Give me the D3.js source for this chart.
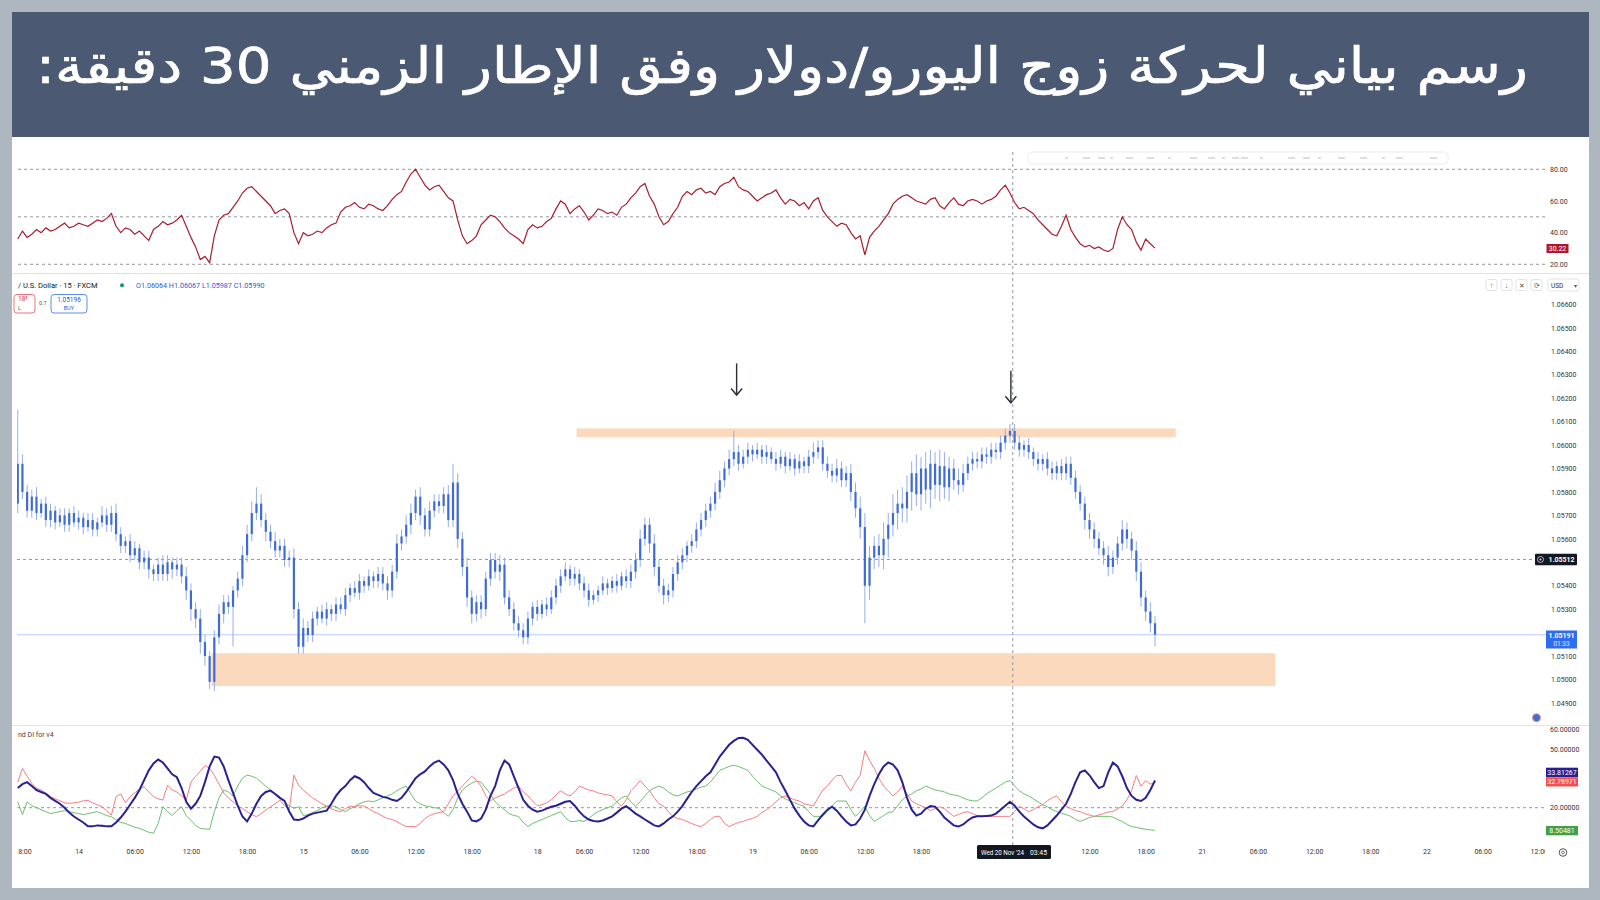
<!DOCTYPE html>
<html>
<head>
<meta charset="utf-8">
<script src="https://cdn.jsdelivr.net/npm/d3@7"></script>
<style>
  html, body { margin: 0; padding: 0; background: #aeb6c0; }
  svg { display: block; }
  text { font-family: Roboto, "Liberation Sans", sans-serif; }
</style>
</head>
<body>
<svg id="chart" width="1600" height="900"></svg>
<script>
// ---- data (30 min bars, bar index 0 = 14 Nov 00:00) ----
const startIndex = -13;
const firstOpen = 1.0575;
const closes = [
  1.0592, 1.0580, 1.0572, 1.0578, 1.0571, 1.0575, 1.0568, 1.0572, 1.0567, 1.0570,
  1.0566, 1.0571, 1.0567, 1.0569, 1.0565, 1.0568, 1.0564, 1.0567, 1.0570, 1.0566,
  1.0571, 1.0562, 1.0557, 1.0559, 1.0553, 1.0556, 1.0550, 1.0552, 1.0547, 1.0545,
  1.0549, 1.0545, 1.0550, 1.0547, 1.0549, 1.0544, 1.0538, 1.0530, 1.0526, 1.0516,
  1.0510, 1.0499, 1.0518, 1.0528, 1.0533, 1.0531, 1.0538, 1.0543, 1.0553, 1.0562,
  1.0571, 1.0575, 1.0568, 1.0563, 1.0559, 1.0555, 1.0557, 1.0551, 1.0552, 1.0530,
  1.0514, 1.0522, 1.0519, 1.0526, 1.0529, 1.0526, 1.0530, 1.0528, 1.0532, 1.0530,
  1.0536, 1.0539, 1.0537, 1.0542, 1.0540, 1.0544, 1.0542, 1.0545, 1.0541, 1.0538,
  1.0546, 1.0558, 1.0561, 1.0566, 1.0571, 1.0578, 1.0570, 1.0564, 1.0572, 1.0576,
  1.0574, 1.0579, 1.0568, 1.0584, 1.0560, 1.0548, 1.0535, 1.0528, 1.0533, 1.0530,
  1.0543, 1.0551, 1.0546, 1.0549, 1.0535, 1.0530, 1.0524, 1.0521, 1.0518, 1.0526,
  1.0531, 1.0528, 1.0532, 1.0530, 1.0535, 1.0540, 1.0544, 1.0547, 1.0543, 1.0545,
  1.0541, 1.0538, 1.0534, 1.0536, 1.0538, 1.0541, 1.0539, 1.0542, 1.0540, 1.0544,
  1.0542, 1.0546, 1.0551, 1.0560, 1.0566, 1.0558, 1.0548, 1.0540, 1.0536, 1.0538,
  1.0545, 1.0550, 1.0553, 1.0557, 1.0559, 1.0564, 1.0568, 1.0572, 1.0575, 1.0580,
  1.0585, 1.0590, 1.0594, 1.0597, 1.0592, 1.0595, 1.0598, 1.0596, 1.0598, 1.0595,
  1.0597, 1.0594, 1.0592, 1.0595, 1.0591, 1.0594, 1.0590, 1.0593, 1.0591, 1.0595,
  1.0597, 1.0599, 1.0592, 1.0589, 1.0587, 1.0590, 1.0585, 1.0588, 1.0580, 1.0573,
  1.0565, 1.0540, 1.0552, 1.0557, 1.0553, 1.0560, 1.0566, 1.0571, 1.0575, 1.0573,
  1.0580, 1.0588, 1.0579, 1.0590, 1.0581, 1.0592, 1.0583, 1.0591, 1.0582, 1.0590,
  1.0585, 1.0583, 1.0588, 1.0592, 1.0594, 1.0593, 1.0596, 1.0595, 1.0598, 1.0597,
  1.0601, 1.0604, 1.0606, 1.0601, 1.0598, 1.0600, 1.0597, 1.0594, 1.0592, 1.0594,
  1.0590, 1.0588, 1.0591, 1.0588, 1.0592, 1.0586, 1.0580, 1.0575, 1.0568, 1.0564,
  1.0560, 1.0556, 1.0553, 1.0548, 1.0552, 1.0558, 1.0564, 1.0560, 1.0555, 1.0546,
  1.0535, 1.0529, 1.0524, 1.05191
];
// wick lengths above / below the body, in pips
const wickUp = [
  23, 4, 3, 3, 4, 2, 3, 3, 2, 3,
  3, 2, 3, 3, 2, 3, 3, 2, 4, 3,
  3, 4, 3, 2, 3, 3, 2, 3, 3, 2,
  3, 4, 3, 2, 3, 3, 4, 3, 3, 4,
  3, 2, 3, 4, 3, 3, 2, 3, 4, 4,
  5, 7, 4, 3, 3, 4, 3, 3, 3, 4,
  3, 4, 3, 3, 2, 3, 3, 2, 3, 3,
  3, 2, 3, 3, 2, 3, 2, 3, 3, 3,
  3, 4, 3, 4, 4, 3, 4, 3, 4, 3,
  3, 3, 4, 8, 4, 3, 4, 3, 3, 3,
  3, 3, 3, 4, 3, 3, 3, 3, 3, 3,
  2, 3, 2, 3, 3, 3, 3, 3, 2, 3,
  2, 3, 3, 2, 2, 3, 2, 2, 3, 2,
  3, 3, 3, 4, 3, 3, 4, 3, 3, 3,
  3, 3, 3, 2, 3, 3, 3, 3, 3, 4,
  4, 3, 4, 9, 3, 3, 3, 2, 3, 2,
  3, 2, 3, 3, 2, 3, 2, 3, 2, 3,
  4, 3, 3, 3, 3, 4, 3, 3, 4, 4,
  5, 6, 5, 4, 5, 7, 5, 8, 6, 7,
  7, 5, 8, 5, 7, 6, 5, 7, 6, 5,
  4, 5, 4, 3, 3, 3, 3, 3, 3, 3,
  3, 3, 3, 3, 3, 2, 3, 2, 3, 2,
  3, 3, 2, 3, 3, 3, 3, 3, 3, 3,
  3, 3, 3, 4, 3, 3, 4, 3, 3, 4,
  4, 3, 4, 3
];
const wickDn = [
  4, 3, 3, 3, 3, 2, 3, 3, 3, 2,
  3, 3, 2, 3, 3, 2, 3, 3, 2, 3,
  3, 3, 3, 3, 3, 2, 3, 3, 4, 3,
  3, 3, 3, 4, 3, 3, 4, 5, 4, 5,
  4, 3, 4, 3, 4, 3, 17, 3, 3, 3,
  3, 3, 3, 4, 3, 3, 3, 3, 3, 4,
  3, 3, 3, 3, 3, 2, 3, 3, 3, 2,
  3, 3, 2, 3, 3, 2, 3, 3, 3, 4,
  3, 3, 3, 3, 4, 3, 4, 3, 3, 3,
  3, 3, 3, 3, 4, 4, 4, 4, 3, 4,
  3, 3, 3, 4, 3, 3, 3, 3, 3, 3,
  3, 3, 2, 3, 2, 3, 3, 2, 3, 3,
  3, 3, 3, 2, 3, 2, 3, 2, 3, 2,
  3, 3, 3, 3, 3, 4, 4, 3, 4, 3,
  3, 3, 3, 3, 3, 3, 3, 3, 3, 3,
  3, 3, 3, 3, 3, 2, 3, 3, 2, 3,
  3, 2, 3, 2, 3, 2, 3, 2, 3, 3,
  3, 3, 3, 3, 3, 3, 3, 3, 4, 4,
  5, 16, 6, 5, 5, 6, 8, 5, 7, 6,
  6, 8, 5, 7, 6, 8, 6, 7, 5, 6,
  4, 4, 3, 3, 3, 3, 3, 3, 3, 3,
  3, 3, 3, 3, 3, 3, 3, 3, 3, 3,
  3, 3, 3, 3, 3, 3, 3, 3, 4, 4,
  4, 3, 4, 4, 3, 3, 3, 4, 4, 4,
  4, 4, 4, 5
];
const rsiValues = [
  36, 41, 37, 39, 42, 40, 43, 41, 42, 44,
  46, 43, 44, 46, 45, 44, 46, 48, 47, 49,
  52, 44, 40, 43, 42, 39, 41, 38, 35, 42,
  44, 47, 45, 46, 48, 51, 44, 37, 31, 23,
  25, 21, 38, 48, 51, 52, 56, 60, 65, 68,
  69, 66, 63, 60, 57, 52, 54, 55, 52, 40,
  33, 40, 38, 39, 41, 40, 43, 45, 46, 53,
  56, 57, 59, 56, 55, 58, 57, 55, 54, 57,
  61, 64, 66, 72, 77, 80, 75, 70, 67, 69,
  70, 66, 62, 60, 48, 38, 33, 35, 38, 45,
  48, 51, 50, 47, 43, 40, 38, 36, 33, 42,
  45, 43, 44, 47, 49, 55, 60, 58, 52, 55,
  57, 53, 48, 51, 55, 54, 52, 53, 51, 56,
  58, 62, 65, 69, 71, 63, 58, 50, 45, 47,
  52, 56, 63, 66, 64, 67, 68, 65, 66, 64,
  69, 71, 72, 75, 69, 67, 66, 63, 60, 62,
  64, 65, 67, 62, 58, 61, 60, 57, 59, 55,
  60, 62, 54, 50, 47, 44, 46, 45, 40, 36,
  38, 26, 37, 41, 44, 48, 52, 58, 61, 63,
  64, 62, 60, 59, 58, 61, 62, 57, 55, 59,
  62, 58, 57, 60, 61, 60, 58, 60, 61, 63,
  67, 70, 65, 59, 55, 56, 54, 52, 48, 45,
  42, 39, 38, 44, 51, 42, 37, 33, 31, 32,
  30, 31, 29, 28, 30, 42, 50, 45, 42, 34,
  29, 36, 33, 30.22
];
const adxValues = [
  30, 32, 33, 31, 29, 28, 27, 25, 23.5, 22,
  20, 17.5, 15.5, 14, 12.5, 10.5, 10.5, 11, 10.8, 10.5,
  10.5, 12.5, 15, 18, 21.5, 25, 29, 34, 39, 42.5,
  44.5, 43, 40, 37, 35.5, 30, 23, 19.5, 22, 26,
  33, 41, 46, 45.5, 41, 34, 27.5, 21, 15.5, 13,
  17, 22, 26, 28, 28.7, 27, 25, 23.5, 18, 14,
  13.7, 14.5, 16, 17, 17.5, 18, 18.5, 22, 26, 29,
  31, 34, 36, 35, 33, 30, 27.5, 26.5, 25.5, 25,
  24, 23.4, 25, 28, 31.5, 35, 37, 38.5, 41, 43,
  44, 42, 39, 34, 27, 22, 18, 13.5, 13, 14.5,
  19, 26, 31, 39, 44, 42, 36, 30, 24, 21,
  19, 18, 18.5, 19.5, 20.5, 21, 22, 23, 23.4, 21,
  18, 15.6, 14, 13.2, 13, 13.5, 14.5, 15.6, 17.5, 19.5,
  20.8, 19, 17, 15.6, 14, 12.5, 11, 10.5, 12, 14,
  15.6, 18, 20.8, 24.5, 28, 31, 33.5, 36, 38, 42,
  46, 49, 52, 54, 55.5, 55.6, 54.5, 52, 49.5, 47,
  44, 41, 38, 33, 28.6, 24, 19.5, 16, 13, 11,
  10.5, 13.5, 16.5, 19, 20.5, 18.5, 15.6, 13, 11, 11.5,
  14.5, 19, 26, 32, 37, 41, 43, 42, 39, 33,
  25, 19, 16, 17, 19.5, 20.8, 20.5, 18, 15, 13,
  11, 10.4, 11.5, 13.5, 15, 15.6, 15.6, 15.8, 16, 17,
  19, 21, 23, 21, 18, 15.5, 13.5, 11.5, 10, 9.5,
  11, 13.5, 16, 19, 22, 27, 33, 38, 39, 36.5,
  33, 30, 31, 38, 43, 41, 36, 30, 26, 24,
  23.4, 25, 29, 33.81267
];
const plusDI = [
  23, 16.5, 23, 21, 20, 19, 18, 17, 17.5, 18,
  18.5, 18, 17.5, 17, 16.5, 17, 17.5, 18, 17, 16,
  15.4, 14, 12.5, 12, 11, 10, 9.5, 8.5, 7.5, 7,
  12, 20.5, 18, 16, 18.5, 20.5, 16, 13.5, 11, 9.5,
  9.2, 9, 18, 25, 29, 28, 26, 31, 35, 36.6,
  36, 35, 33, 31, 29, 27, 25.6, 23, 21, 19.7,
  20.5, 16, 16.5, 17.5, 18.5, 20, 20.8, 21, 20.5, 19,
  18, 19.5, 20.5, 22, 23, 23.4, 23, 24, 25, 26,
  27, 28.6, 30, 31, 27, 23.4, 22, 21, 20.5, 20,
  19.7, 17.5, 15.6, 19, 25, 29, 31, 32.5, 33.5, 33,
  30, 27, 23, 20.8, 19, 17, 16, 15.6, 12.5, 10.4,
  12, 13, 14, 15, 16, 17, 18, 15, 13, 13,
  13.5, 13, 14.5, 16.5, 18, 19, 20, 20.8, 23, 25,
  26, 23, 20.8, 23, 26, 28.6, 30, 31, 30, 28,
  26.5, 26, 27, 28, 28.6, 29.5, 30.5, 31, 33, 36,
  39, 40, 41, 41.6, 41, 40, 39, 36, 33.5, 31,
  30, 29, 28, 26, 24.5, 23.4, 22.5, 21.5, 20.8, 18,
  15.6, 15.6, 15.6, 18, 21, 23.4, 23.4, 23.4, 19, 15.6,
  18, 20.8, 16, 13, 14.5, 16, 17.5, 18, 21, 24,
  26, 27, 28.6, 29.5, 31, 30, 29, 28.6, 28, 27,
  26.5, 26, 25, 24, 23.5, 23.4, 25, 27, 28.6, 30,
  31.5, 33, 33.8, 31, 28.6, 27, 26, 24.5, 23, 21.5,
  20.5, 19, 18, 17.2, 16.5, 15.6, 14, 13, 14, 15,
  15.6, 15.6, 15.6, 15.6, 15.2, 14, 13, 11.5, 10.4, 10,
  9.4, 9, 8.7, 8.50481
];
const minusDI = [
  33, 40, 36, 32.4, 30, 29, 27.5, 25.6, 24.5, 23.5,
  22.5, 22.2, 22.5, 22.8, 23.5, 23.7, 22.5, 21.5, 20.5, 18.5,
  16.3, 25.6, 27, 22.5, 25.6, 27.5, 29.5, 30.7, 28, 25.6,
  24.5, 23.9, 31.5, 29, 28, 26, 23.9, 33, 36, 38.5,
  41.5, 40, 36.5, 32, 27.5, 25, 23, 21, 19.5, 18,
  16.5, 15.4, 17, 18.8, 20.5, 22, 23.9, 21, 18.8, 36.6,
  31.5, 29, 27, 25, 23.5, 22, 20.8, 19.5, 18.5, 18,
  19.5, 20.8, 20.5, 21, 20.8, 19.5, 18, 17, 15.6, 14.5,
  14, 13, 11.5, 10.4, 10.4, 10.4, 12, 14.5, 16, 17,
  17.5, 18, 22, 26, 28.5, 31, 33.5, 36, 34, 31,
  26, 23.4, 25, 26, 27, 28.6, 30, 31, 28, 26,
  23.4, 21, 21.5, 22.5, 24, 26.5, 28.6, 27, 26, 28,
  31, 30, 29, 28.6, 27.5, 27, 26.5, 26, 23, 20.8,
  24, 28.6, 31, 33.8, 31, 28.6, 25, 22, 20.8, 18,
  15.6, 14.5, 14, 13, 12, 11, 10.4, 12, 14, 15.6,
  15.6, 12, 10.4, 11.5, 12.5, 13, 14, 14.5, 15.6, 17.5,
  19, 20.8, 23, 25, 26, 25, 24, 23.4, 22, 21.5,
  20.8, 25, 29, 31, 34, 36.4, 36.4, 32, 28.6, 33,
  36.4, 49, 44, 40, 35, 31, 28.5, 26, 28, 31,
  27, 23.4, 22, 21, 20, 18.5, 19.5, 20.5, 19.5, 17.5,
  15.6, 16.5, 17.5, 18, 17, 16, 15.6, 15.6, 15.6, 15.6,
  15.6, 15.6, 15.6, 18, 20.8, 19.5, 18, 19, 20.5, 21.5,
  23.5, 25, 26, 23, 20.8, 19.5, 18.5, 18, 17, 16.3,
  15.6, 16.3, 17, 17.8, 18, 19.5, 20.8, 24, 28.6, 36.4,
  31, 33.8, 32, 32.76971
];

// axis ticks (values hidden behind the value boxes are left out)
const priceTicks = [1.066, 1.065, 1.064, 1.063, 1.062, 1.061, 1.060, 1.059, 1.058,
  1.057, 1.056, 1.054, 1.053, 1.051, 1.050, 1.049];
const rsiTicks = [80, 60, 40, 20];
const rsiGuides = [80, 50, 20];
const dmiTicks = [60, 50, 20];
const timeTicks = [
  [-12, '18:00'], [0, '14'], [12, '06:00'], [24, '12:00'], [36, '18:00'], [48, '15'],
  [60, '06:00'], [72, '12:00'], [84, '18:00'], [98, '18'], [108, '06:00'], [120, '12:00'],
  [132, '18:00'], [144, '19'], [156, '06:00'], [168, '12:00'], [180, '18:00'],
  [216, '12:00'], [228, '18:00'], [240, '21'], [252, '06:00'], [264, '12:00'], [276, '18:00'],
  [288, '22'], [300, '06:00'], [312, '12:00']
];
const zones = [
  { from: 106.4, to: 234.4, lo: 1.06033, hi: 1.06071 },
  { from: 28.4, to: 255.7, lo: 1.04972, hi: 1.05112 }
];
const arrows = [
  { at: 140.6, top: 1.06348, tip: 1.06213 },
  { at: 199.2, top: 1.06317, tip: 1.06180 }
];
const lastPrice = 1.05191;
const crossPrice = 1.05512;
const crossIndex = 199.6;

// ---- layout ----
const W = 1600, H = 900;
const plotL = 17, plotR = 1546;
const svg = d3.select('#chart');

const x = d3.scaleLinear().domain([0, 312]).range([78.6, 1538.8]);
const ry = d3.scaleLinear().domain([20, 80]).range([264.3, 169.3]);
const py = d3.scaleLinear().domain([1.049, 1.066]).range([703, 304.3]);
const dy = d3.scaleLinear().domain([20, 60]).range([807.7, 729.1]);

svg.append('rect').attr('width', W).attr('height', H).attr('fill', '#aeb6c0');
svg.append('rect').attr('x', 12).attr('y', 12).attr('width', 1577).attr('height', 125).attr('fill', '#4b5a72');
svg.append('rect').attr('x', 12).attr('y', 137).attr('width', 1577).attr('height', 751).attr('fill', '#ffffff');

// title
svg.append('text')
  .attr('x', 782).attr('y', 83)
  .attr('direction', 'rtl')
  .attr('text-anchor', 'middle')
  .attr('textLength', 1492)
  .attr('lengthAdjust', 'spacingAndGlyphs')
  .style('font-family', '"DejaVu Sans", sans-serif')
  .style('font-size', '50px')
  .attr('fill', '#ffffff')
  .attr('stroke', '#ffffff').attr('stroke-width', 0.7)
  .text('رسم بياني لحركة زوج اليورو/دولار وفق الإطار الزمني 30 دقيقة:');

const defs = svg.append('defs');
function clip(id, y0, y1) {
  defs.append('clipPath').attr('id', id).append('rect')
    .attr('x', plotL).attr('y', y0).attr('width', plotR - plotL).attr('height', y1 - y0);
  return 'url(#' + id + ')';
}

// pane separators
[273.5, 725.5].forEach(yy => {
  svg.append('line').attr('x1', 12).attr('x2', 1589).attr('y1', yy).attr('y2', yy)
    .attr('stroke', '#e0e3eb').attr('stroke-width', 1);
});

// ---- RSI pane ----
const rsiG = svg.append('g');
rsiG.selectAll('line.guide').data(rsiGuides).enter().append('line')
  .attr('x1', 18).attr('x2', 1547)
  .attr('y1', d => ry(d)).attr('y2', d => ry(d))
  .attr('stroke', '#9598a1').attr('stroke-dasharray', '3,3').attr('stroke-width', 1);

const rsiLine = d3.line().x((d, i) => x(startIndex + i)).y(d => ry(d));
rsiG.append('path').datum(rsiValues)
  .attr('clip-path', clip('c-rsi', 140, 272))
  .attr('d', rsiLine)
  .attr('fill', 'none').attr('stroke', '#a61e30').attr('stroke-width', 1.2);

const rsiAxis = svg.append('g').attr('transform', 'translate(1550,0)')
  .call(d3.axisRight(ry).tickValues(rsiTicks).tickFormat(d3.format('.2f')).tickSize(0).tickPadding(0));
rsiAxis.select('.domain').remove();
rsiAxis.selectAll('text').attr('fill', '#333').style('font-size', '7px');

svg.append('rect').attr('x', 1546.5).attr('y', 244).attr('width', 22).attr('height', 9).attr('fill', '#b2162a');
svg.append('text').attr('x', 1557.5).attr('y', 251).attr('text-anchor', 'middle')
  .attr('fill', '#fff').style('font-size', '7px').text(rsiValues[rsiValues.length - 1].toFixed(2));

// toolbar strip at the top of the rsi pane
const tb = svg.append('g');
tb.append('rect').attr('x', 1028).attr('y', 152).attr('width', 420).attr('height', 12).attr('rx', 4)
  .attr('fill', '#ffffff').attr('stroke', '#ececec');
[1065, 1083, 1098, 1110, 1126, 1147, 1168, 1190, 1208, 1222, 1232, 1241, 1260, 1288, 1303, 1318, 1338, 1360, 1382, 1396, 1430].forEach((tx, k) => {
  tb.append('line').attr('x1', tx).attr('x2', tx + (k % 3 === 0 ? 3 : 7)).attr('y1', 158).attr('y2', 158)
    .attr('stroke', '#b9bcc4').attr('stroke-width', 1);
});

// ---- price pane ----
const pClip = clip('c-price', 276, 724);
const priceG = svg.append('g').attr('clip-path', pClip);

priceG.selectAll('rect.zone').data(zones).enter().append('rect')
  .attr('x', d => x(d.from)).attr('width', d => x(d.to) - x(d.from))
  .attr('y', d => py(d.hi)).attr('height', d => py(d.lo) - py(d.hi))
  .attr('fill', '#fbd9bd');

priceG.append('line').attr('x1', plotL).attr('x2', plotR)
  .attr('y1', py(lastPrice)).attr('y2', py(lastPrice))
  .attr('stroke', '#b9cbf7').attr('stroke-width', 1);
priceG.append('line').attr('x1', plotL).attr('x2', 1534)
  .attr('y1', py(crossPrice)).attr('y2', py(crossPrice))
  .attr('stroke', '#9598a1').attr('stroke-dasharray', '3,3');

const candles = closes.map((c, i) => {
  const o = i === 0 ? firstOpen : closes[i - 1];
  return {
    idx: startIndex + i, o, c,
    h: Math.max(o, c) + wickUp[i] * 0.0001,
    l: Math.min(o, c) - wickDn[i] * 0.0001
  };
});
priceG.selectAll('line.wick').data(candles).enter().append('line')
  .attr('x1', d => x(d.idx)).attr('x2', d => x(d.idx))
  .attr('y1', d => py(d.h)).attr('y2', d => py(d.l))
  .attr('stroke', '#95aeec').attr('stroke-width', 1);
priceG.selectAll('rect.body').data(candles).enter().append('rect')
  .attr('x', d => x(d.idx) - 1.1).attr('width', 2.2)
  .attr('y', d => py(Math.max(d.o, d.c)))
  .attr('height', d => Math.max(1, py(Math.min(d.o, d.c)) - py(Math.max(d.o, d.c))))
  .attr('fill', '#3f6bd6');

// arrows
arrows.forEach(a => {
  const ax = x(a.at), y0 = py(a.top), y1 = py(a.tip);
  priceG.append('line').attr('x1', ax).attr('x2', ax).attr('y1', y0).attr('y2', y1)
    .attr('stroke', '#2a2e39').attr('stroke-width', 1.4);
  priceG.append('path').attr('d', `M${ax - 5.5},${y1 - 6.5}L${ax},${y1}L${ax + 5.5},${y1 - 6.5}`)
    .attr('fill', 'none').attr('stroke', '#2a2e39').attr('stroke-width', 1.4);
});

const pAxis = svg.append('g').attr('transform', 'translate(1551,0)')
  .call(d3.axisRight(py).tickValues(priceTicks).tickFormat(d3.format('.5f')).tickSize(0).tickPadding(0));
pAxis.select('.domain').remove();
pAxis.selectAll('text').attr('fill', '#333').style('font-size', '7px');

// crosshair price label
svg.append('rect').attr('x', 1535).attr('y', py(crossPrice) - 5.8).attr('width', 42).attr('height', 11.6)
  .attr('fill', '#131722').attr('rx', 1);
svg.append('circle').attr('cx', 1540.5).attr('cy', py(crossPrice)).attr('r', 3)
  .attr('fill', 'none').attr('stroke', '#ddd').attr('stroke-width', 0.8);
svg.append('circle').attr('cx', 1540.5).attr('cy', py(crossPrice)).attr('r', 1).attr('fill', '#ddd');
svg.append('text').attr('x', 1561.5).attr('y', py(crossPrice) + 2.5).attr('text-anchor', 'middle')
  .attr('fill', '#fff').style('font-size', '7px').style('font-weight', 'bold').text(crossPrice.toFixed(5));

// last price label
svg.append('rect').attr('x', 1546).attr('y', 630.5).attr('width', 31).attr('height', 18).attr('fill', '#2f6cf0');
svg.append('text').attr('x', 1561.5).attr('y', 638).attr('text-anchor', 'middle')
  .attr('fill', '#fff').style('font-size', '7px').style('font-weight', 'bold').text(lastPrice.toFixed(5));
svg.append('text').attr('x', 1561.5).attr('y', 646).attr('text-anchor', 'middle')
  .attr('fill', '#e6ecff').style('font-size', '6.5px').text('01:33');

// price pane header
svg.append('text').attr('x', 18).attr('y', 288).attr('fill', '#131722').style('font-size', '7.5px')
  .text('/ U.S. Dollar · 15 · FXCM');
svg.append('circle').attr('cx', 122).attr('cy', 285.3).attr('r', 2).attr('fill', '#089981');
svg.append('text').attr('x', 136).attr('y', 288).attr('fill', '#2a5bd7').style('font-size', '7.2px')
  .text('O1.06064 H1.06067 L1.05987 C1.05990');
svg.append('rect').attr('x', 14).attr('y', 294.5).attr('width', 21).attr('height', 18.5).attr('rx', 3)
  .attr('fill', '#fff').attr('stroke', '#f0727a');
svg.append('text').attr('x', 18).attr('y', 301).attr('fill', '#e0303c').style('font-size', '6.5px').text('18⁵');
svg.append('text').attr('x', 18).attr('y', 310).attr('fill', '#e0303c').style('font-size', '6px').text('L');
svg.append('text').attr('x', 39).attr('y', 304.5).attr('fill', '#555').style('font-size', '5.5px').text('0.7');
svg.append('rect').attr('x', 51).attr('y', 294.5).attr('width', 36).attr('height', 18.5).attr('rx', 3)
  .attr('fill', '#fff').attr('stroke', '#5b8def');
svg.append('text').attr('x', 69).attr('y', 301.5).attr('text-anchor', 'middle').attr('fill', '#2a5bd7')
  .style('font-size', '6.5px').text('1.05196');
svg.append('text').attr('x', 69).attr('y', 309.5).attr('text-anchor', 'middle').attr('fill', '#2a5bd7')
  .style('font-size', '5.5px').text('BUY');

// top right buttons
['↑', '↓', '✕', '⟳'].forEach((s, k) => {
  const bx = 1486 + k * 15;
  svg.append('rect').attr('x', bx).attr('y', 279.5).attr('width', 11).attr('height', 11).attr('rx', 2)
    .attr('fill', '#fff').attr('stroke', '#e0e3eb');
  svg.append('text').attr('x', bx + 5.5).attr('y', 288).attr('text-anchor', 'middle')
    .attr('fill', '#555').style('font-size', '7px').text(s);
});
svg.append('rect').attr('x', 1548).attr('y', 279).attr('width', 31).attr('height', 12).attr('rx', 2)
  .attr('fill', '#fff').attr('stroke', '#e0e3eb');
svg.append('text').attr('x', 1551).attr('y', 288).attr('fill', '#333').style('font-size', '6.5px').text('USD');
svg.append('text').attr('x', 1574).attr('y', 288).attr('fill', '#555').style('font-size', '6px').text('▾');

svg.append('circle').attr('cx', 1536.5).attr('cy', 717.7).attr('r', 4)
  .attr('fill', '#3c6fd6').attr('stroke', '#f28b82').attr('stroke-width', 1);

// ---- DMI pane ----
const dmiG = svg.append('g').attr('clip-path', clip('c-dmi', 727, 842));
dmiG.append('line').attr('x1', plotL).attr('x2', plotR).attr('y1', dy(20)).attr('y2', dy(20))
  .attr('stroke', '#9598a1').attr('stroke-dasharray', '3,3');
const dLine = d3.line().x((d, i) => x(startIndex + i)).y(d => dy(d));
dmiG.append('path').datum(plusDI).attr('d', dLine).attr('fill', 'none')
  .attr('stroke', '#6cbf70').attr('stroke-width', 1);
dmiG.append('path').datum(minusDI).attr('d', dLine).attr('fill', 'none')
  .attr('stroke', '#f77c80').attr('stroke-width', 1);
dmiG.append('path').datum(adxValues).attr('d', dLine).attr('fill', 'none')
  .attr('stroke', '#2a2191').attr('stroke-width', 2);

svg.append('text').attr('x', 18).attr('y', 737).attr('fill', '#444').style('font-size', '7px').text('nd DI for v4');

const dAxis = svg.append('g').attr('transform', 'translate(1550,0)')
  .call(d3.axisRight(dy).tickValues(dmiTicks).tickFormat(d3.format('.5f')).tickSize(0).tickPadding(0));
dAxis.select('.domain').remove();
dAxis.selectAll('text').attr('fill', '#333').style('font-size', '7px');

const dmiLabels = [
  { v: adxValues[adxValues.length - 1], y: 767.7, c: '#2a1d8f' },
  { v: minusDI[minusDI.length - 1], y: 777.2, c: '#f05252' },
  { v: plusDI[plusDI.length - 1], y: 826, c: '#43a047' }
];
dmiLabels.forEach(l => {
  svg.append('rect').attr('x', 1546).attr('y', l.y).attr('width', 32).attr('height', 9.3).attr('fill', l.c);
  svg.append('text').attr('x', 1562).attr('y', l.y + 7).attr('text-anchor', 'middle')
    .attr('fill', '#fff').style('font-size', '7px').text(l.v.toFixed(5));
});

// ---- crosshair vertical ----
svg.append('line').attr('x1', x(crossIndex)).attr('x2', x(crossIndex)).attr('y1', 152).attr('y2', 845)
  .attr('stroke', '#9598a1').attr('stroke-dasharray', '3,3').attr('stroke-width', 1);

// ---- time axis ----
const tClip = defs.append('clipPath').attr('id', 'c-time');
tClip.append('rect').attr('x', 17).attr('y', -8).attr('width', 1528).attr('height', 30);
const tAxis = svg.append('g').attr('transform', 'translate(0,846)').attr('clip-path', 'url(#c-time)')
  .call(d3.axisBottom(x).tickValues(timeTicks.map(t => t[0]))
    .tickFormat((d, i) => timeTicks[i][1]).tickSize(0).tickPadding(3));
tAxis.select('.domain').remove();
tAxis.selectAll('text').attr('fill', '#333').style('font-size', '7px');

svg.append('rect').attr('x', 977).attr('y', 845).attr('width', 74).attr('height', 14).attr('rx', 1.5).attr('fill', '#131722');
svg.append('text').attr('x', 981).attr('y', 854.5).attr('fill', '#fff').style('font-size', '6.5px')
  .attr('textLength', 43).attr('lengthAdjust', 'spacingAndGlyphs').text("Wed 20 Nov '24");
svg.append('text').attr('x', 1030).attr('y', 854.5).attr('fill', '#fff').style('font-size', '6.5px')
  .attr('textLength', 17).attr('lengthAdjust', 'spacingAndGlyphs').text('03:45');

svg.append('circle').attr('cx', 1563).attr('cy', 852.5).attr('r', 3.8).attr('fill', 'none').attr('stroke', '#555').attr('stroke-width', 1);
svg.append('circle').attr('cx', 1563).attr('cy', 852.5).attr('r', 1.4).attr('fill', 'none').attr('stroke', '#555').attr('stroke-width', 0.8);
</script>
</body>
</html>
